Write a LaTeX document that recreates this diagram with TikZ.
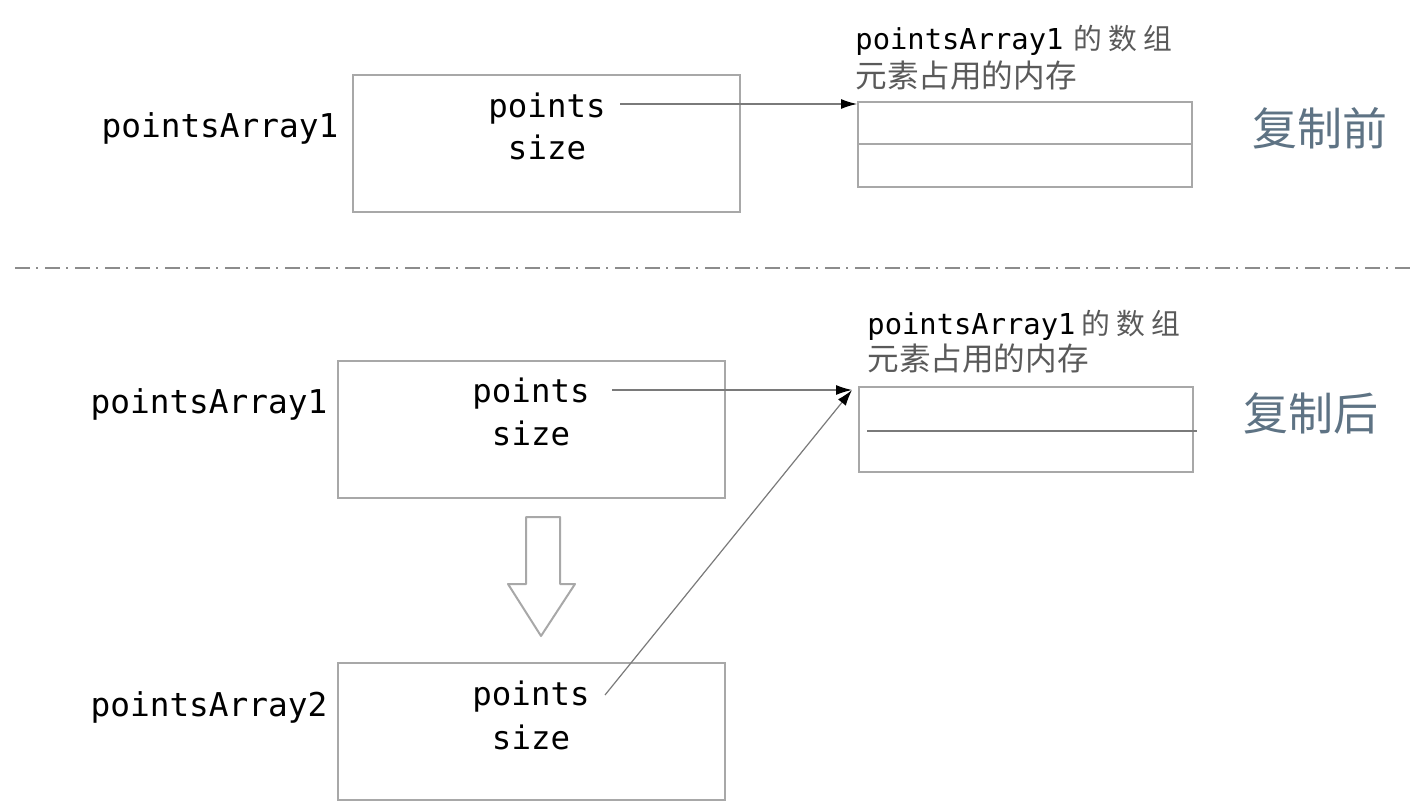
\documentclass[tikz,border=0pt]{standalone}
\usepackage{fontspec}
\setmonofont{DejaVu Sans Mono}
\newfontfamily\cjk{Noto Sans CJK SC}
\usetikzlibrary{arrows.meta}
\definecolor{boxgray}{HTML}{A8A8A8}
\definecolor{linegray}{HTML}{7A7A7A}
\definecolor{cjkgray}{HTML}{5A5A5A}
\definecolor{titlecol}{HTML}{5E7384}
\definecolor{sepgray}{HTML}{8C8C8C}
\tikzset{
  membox/.style={draw=boxgray, line width=1pt, minimum width=193.5pt, minimum height=68.5pt, inner sep=0pt},
  arrbox/.style={draw=boxgray, line width=1pt, minimum width=167pt, minimum height=42.5pt, inner sep=0pt},
  fieldtxt/.style={font=\ttfamily\fontsize{16.2}{19}\selectfont, inner sep=0pt, anchor=base},
  vartxt/.style={font=\ttfamily\fontsize{16.4}{19}\selectfont, inner sep=0pt, anchor=base},
  captxt/.style={font=\ttfamily\fontsize{14.4}{17}\selectfont, inner sep=0pt, anchor=base west},
  cjktxt/.style={font=\cjk\fontsize{15.8}{18}\selectfont, text=cjkgray, inner sep=0pt, anchor=base west},
  titletxt/.style={font=\cjk\fontsize{22.5}{26}\selectfont, text=titlecol, inner sep=0pt, anchor=base},
  ptr/.style={draw=linegray, line width=0.6pt, -{Latex[length=8pt,width=5pt,color=black]}},
  sep/.style={draw=sepgray, line width=1.3pt, dash pattern=on 7.5pt off 3pt on 1pt off 3.5pt}
}
\begin{document}
\begin{tikzpicture}[x=0.5pt,y=-0.5pt]
\useasboundingbox (0,0) rectangle (1422,812);
\fill[white] (0,0) rectangle (1422,812);

% ---------- before copy ----------
\node[vartxt] (v1) at (220,138) {pointsArray1};
\node[membox] (b1) at (546.5,143.5) {};
\node[fieldtxt] (p1) at (547,118) {points};
\node[fieldtxt] (s1) at (547,160) {size};
\node[captxt] (c1a) at (855,50) {pointsArray1\hspace{5pt}{\cjk\color{cjkgray}的 数 组}};
\node[cjktxt] (c1b) at (855,88) {元素占用的内存};
\node[arrbox] (a1) at (1025,144.5) {};
\draw[draw=boxgray, line width=1pt] (a1.west) -- (a1.east);
\node[titletxt] (t1) at (1320,146) {复制前};
\coordinate (st1) at (620,104);
\draw[ptr] (st1) -- (a1.north west |- st1);

% ---------- separator ----------
\coordinate (sepL) at (15,268);
\coordinate (sepR) at (1415,268);
\draw[sep] (sepL) -- (sepR);

% ---------- after copy ----------
\node[vartxt] (v2) at (209,413) {pointsArray1};
\node[membox] (b2) at (531.5,429) {};
\node[fieldtxt] (p2) at (531,402) {points};
\node[fieldtxt] (s2) at (531,445) {size};

\node[vartxt] (v3) at (209,716) {pointsArray2};
\node[membox] (b3) at (531.5,731.5) {};
\node[fieldtxt] (p3) at (531,705) {points};
\node[fieldtxt] (s3) at (531,749) {size};

\draw[draw=boxgray, line width=1pt, line join=round]
  (526,517) -- (560,517) -- (560,584) -- (575,584) -- (541,636) -- (508,584) -- (526,584) -- cycle;

\node[captxt] (c2a) at (867,335) {pointsArray1\hspace{3pt}{\cjk\color{cjkgray}的 数 组}};
\node[cjktxt] (c2b) at (867,371) {元素占用的内存};
\node[arrbox] (a2) at (1025.5,429.5) {};
\coordinate (m2L) at (867,431);
\coordinate (m2R) at (1197,431);
\draw[draw=linegray, line width=0.8pt] (m2L) -- (m2R);
\node[titletxt] (t2) at (1311,430) {复制后};

\coordinate (tip2) at (852,390);
\coordinate (st2) at (612,390);
\coordinate (st3) at (605,695);
\draw[ptr] (st2) -- (tip2);
\draw[ptr] (st3) -- (tip2);
\end{tikzpicture}
\end{document}
